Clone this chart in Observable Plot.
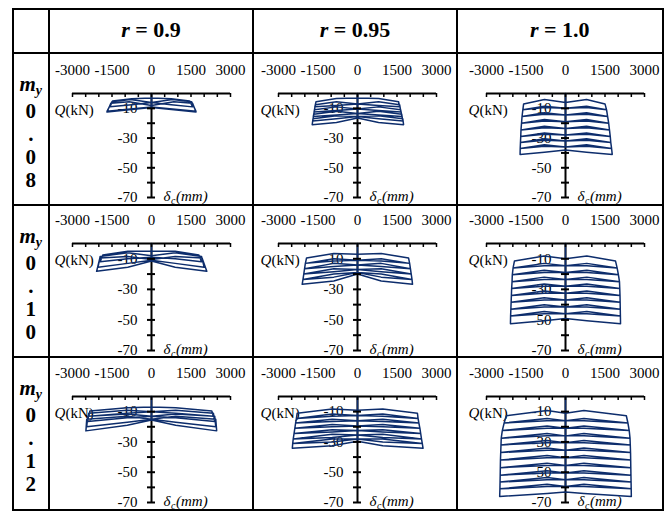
<!DOCTYPE html>
<html>
<head>
<meta charset="utf-8">
<script src="https://cdn.jsdelivr.net/npm/d3@7"></script>
<script src="https://cdn.jsdelivr.net/npm/@observablehq/plot@0.6"></script>
<style>
  body { margin: 0; background: #fff; }
  #root { position: relative; width: 667px; height: 511px; overflow: hidden; font-family: "Liberation Serif", "Times New Roman", serif; color: #000; }
  .hl { position: absolute; background: #000; }
  .cell { position: absolute; }
  .hdr { position: absolute; text-align: center; font-size: 22px; font-weight: bold; line-height: 24px; }
  .rl { position: absolute; text-align: center; font-weight: bold; font-size: 21px; line-height: 22px; }
</style>
</head>
<body>
<div id="root"></div>
<script>
// ---- labels / ticks ----
const rValues = ["0.9", "0.95", "1.0"];
const myValues = ["0.08", "0.10", "0.12"];
const xDomain = [-3000, 3000];
const yDomain = [-70, 0];
const xTickLabels = [-3000, -1500, 0, 1500, 3000];
const xTicks = [-3000, -2500, -2000, -1500, -1000, -500, 0, 500, 1000, 1500, 2000, 2500, 3000];
const yTicks = [-10, -20, -30, -40, -50, -60, -70];
const yTickLabels = [-10, -30, -50, -70];

// ---- hysteresis cycles ----
// each cycle: [center start δ, upper shoulder δ, outer top δ, outer bottom δ, lower shoulder δ, center end δ,
//              +Q outer top, +Q outer bottom, -Q outer top (abs), -Q outer bottom (abs), shoulder Q]
const loops_r090_m008 = [
  [-3, -3.5, -5, -9, -7.5, -6, 1450, 1560, 1480, 1580, 750],
  [-6, -4, -5.5, -12, -10.5, -9, 1520, 1690, 1500, 1690, 800],
  [-8, -5.5, -6.5, -12.5, -11, -9.5, 1560, 1690, 1540, 1690, 850]
];
const loops_r095_m008 = [
  [-3, -3.3, -5.5, -9, -8, -7, 1560, 1600, 1575, 1620, 800],
  [-7, -5.5, -7.5, -12.5, -11.5, -10.5, 1600, 1650, 1600, 1650, 800],
  [-10.5, -9, -11, -15.5, -14.5, -13.5, 1640, 1690, 1630, 1680, 800],
  [-13.5, -12, -14, -18.5, -17, -15.5, 1680, 1720, 1660, 1700, 800],
  [-15.5, -15, -17, -21, -19.5, -16.5, 1720, 1750, 1690, 1720, 800]
];
const loops_r100_m008 = [
  [-6, -4, -7, -11, -9.5, -10, 1500, 1560, 1590, 1620, 800],
  [-10, -8.5, -11, -15.5, -14, -14.5, 1560, 1600, 1620, 1650, 800],
  [-14.5, -13, -15.5, -20, -18.5, -19, 1600, 1640, 1650, 1670, 800],
  [-19, -17.5, -20, -24.5, -23, -23.5, 1640, 1670, 1670, 1690, 800],
  [-23.5, -22, -24.5, -29, -27.5, -28, 1670, 1700, 1690, 1700, 800],
  [-28, -26.5, -29, -33, -31.5, -32, 1700, 1720, 1700, 1710, 800],
  [-32, -30.5, -33, -37, -35.5, -36, 1720, 1750, 1710, 1720, 800],
  [-36, -34.5, -37, -41, -39.5, -38, 1750, 1775, 1720, 1725, 800]
];
const loops_r090_m010 = [
  [-5, -5, -7.5, -12, -10, -9, 1800, 1900, 1850, 1950, 900],
  [-8, -6, -8.5, -15.5, -13, -11, 1900, 2000, 1950, 2030, 900],
  [-10.5, -8.5, -9.5, -18.2, -15.5, -11.5, 1920, 2100, 1960, 2085, 900]
];
const loops_r095_m010 = [
  [-7, -6.5, -9.5, -13, -11.5, -11, 1940, 1980, 1935, 1980, 900],
  [-11, -10, -13, -16.5, -15, -14, 1980, 2010, 1980, 2010, 900],
  [-14, -13, -16.5, -20, -18.5, -17, 2010, 2040, 2010, 2040, 900],
  [-17, -16.5, -20, -23.5, -22, -19, 2040, 2070, 2040, 2070, 900],
  [-19, -20, -23.5, -26.7, -24.5, -20, 2070, 2090, 2070, 2100, 900]
];
const loops_r100_m010 = [
  [-10, -8.2, -11.5, -16, -14.5, -14.5, 1900, 1960, 1940, 1990, 810],
  [-14.5, -13, -16, -20.5, -19, -19, 1960, 2010, 1990, 2020, 810],
  [-19, -17.5, -20.5, -25, -23.5, -23.5, 2010, 2050, 2020, 2030, 810],
  [-23.5, -22, -25, -29.5, -28, -28, 2050, 2060, 2030, 2045, 810],
  [-28, -26.5, -29.5, -34, -32.5, -32.5, 2060, 2070, 2045, 2055, 810],
  [-32.5, -31, -34, -38.5, -37, -37, 2070, 2075, 2055, 2065, 810],
  [-37, -35.5, -38.5, -43, -41.5, -41.5, 2075, 2080, 2065, 2075, 810],
  [-41.5, -40, -43, -47.5, -46, -46, 2080, 2085, 2075, 2085, 810],
  [-46, -44.5, -47.5, -52.5, -50.5, -49, 2085, 2090, 2085, 2090, 810]
];
const loops_r090_m012 = [
  [-7, -7.5, -9.5, -13, -11, -10, 2290, 2350, 2340, 2380, 920],
  [-10, -9, -11, -16.5, -14, -13, 2350, 2400, 2380, 2420, 920],
  [-13, -11.5, -13, -20, -17, -15, 2400, 2440, 2420, 2460, 920],
  [-15, -13, -15, -22.7, -19, -15.5, 2440, 2475, 2460, 2490, 920]
];
const loops_r095_m012 = [
  [-9, -8.2, -11, -14.5, -13, -12.5, 2275, 2300, 2290, 2320, 960],
  [-12.5, -11.5, -14.5, -17.5, -16.5, -16, 2300, 2330, 2320, 2350, 960],
  [-16, -15, -17.5, -21, -20, -19.5, 2330, 2370, 2350, 2380, 960],
  [-19.5, -18.5, -21, -24.5, -23.5, -22.5, 2370, 2400, 2380, 2410, 960],
  [-22.5, -22, -24.5, -28, -27, -25.5, 2400, 2430, 2410, 2440, 960],
  [-25.5, -25, -28, -31, -30, -28, 2430, 2460, 2440, 2460, 960],
  [-28, -28, -31, -34.2, -32.5, -29.5, 2460, 2490, 2460, 2475, 960]
];
const loops_r100_m012 = [
  [-11, -9.3, -12.7, -17.5, -16, -16, 2310, 2370, 2250, 2330, 700],
  [-16, -14.5, -17.5, -22.5, -21, -21, 2370, 2420, 2330, 2400, 700],
  [-21, -19.5, -22.5, -27.5, -26, -26, 2420, 2450, 2400, 2440, 700],
  [-26, -24.5, -27.5, -32, -30.5, -30.5, 2450, 2460, 2440, 2450, 700],
  [-30.5, -29, -32, -37, -35.5, -35.5, 2460, 2470, 2450, 2460, 700],
  [-35.5, -34, -37, -42, -40.5, -40.5, 2470, 2475, 2460, 2470, 700],
  [-40.5, -39, -42, -47, -45.5, -45.5, 2475, 2480, 2470, 2475, 700],
  [-45.5, -44, -47, -52, -50.5, -50.5, 2480, 2485, 2475, 2480, 700],
  [-50.5, -49, -52, -56.5, -55, -55, 2485, 2490, 2480, 2485, 700],
  [-55, -53.5, -56.5, -61, -59.5, -59.5, 2490, 2495, 2485, 2490, 700],
  [-59.5, -58, -61, -66, -64, -63, 2495, 2500, 2490, 2500, 700]
];

const panels = [
  [loops_r090_m008, loops_r095_m008, loops_r100_m008],
  [loops_r090_m010, loops_r095_m010, loops_r100_m010],
  [loops_r090_m012, loops_r095_m012, loops_r100_m012]
];

// ---- layout ----
const colX = [12.5, 49, 253, 457, 662.5];
const rowY = [8.5, 52.5, 205, 357, 509.5];
const zeroX = [151, 357, 565];
const halfSpan = 79;
const rowMargins = [[40, 9], [38, 7], [39, 8]];
const navy = "#0d2d6c";

const root = document.getElementById("root");

function toPoints(loops) {
  const pts = [{q: 0, d: 0}];
  for (const c of loops) {
    const [cA, sT, oT, oB, sB, cB, qRt, qRb, qLt, qLb, qs] = c;
    const seq = [[0, cA], [qs, sT], [qRt, oT], [qRb, oB], [qs, sB], [0, cB],
                 [-qs, sB], [-qLb, oB], [-qLt, oT], [-qs, sT], [0, cA]];
    for (const [q, d] of seq) pts.push({q, d});
  }
  return pts;
}

for (let r = 0; r < 3; r++) {
  for (let c = 0; c < 3; c++) {
    const left = colX[c + 1], right = colX[c + 2];
    const top = rowY[r + 1], bottom = rowY[r + 2];
    const w = Math.round(right - left), h = Math.round(bottom - top);
    const z = zeroX[c] - left;
    const [mT, mB] = rowMargins[r];
    const chart = Plot.plot({
      width: w, height: h,
      marginLeft: z - halfSpan, marginRight: w - z - halfSpan,
      marginTop: mT, marginBottom: mB,
      x: {domain: xDomain, axis: null},
      y: {domain: yDomain, axis: null},
      style: {background: "transparent", fontFamily: "'Liberation Serif', serif", fontSize: "15px", color: "#000", overflow: "visible"},
      marks: [
        Plot.text(yTickLabels, {x: 0, y: d => d, text: d => String(d), dx: -14, textAnchor: "end", fontSize: 15}),
        Plot.text(xTickLabels, {x: d => d, y: yDomain[1], text: d => String(d), dy: -19, lineAnchor: "bottom", fontSize: 15}),
        Plot.text(["Q"], {frameAnchor: "top-left", dx: -18, dy: 11, textAnchor: "start", fontStyle: "italic", fontSize: 15}),
        Plot.text(["(kN)"], {frameAnchor: "top-left", dx: -7, dy: 11, textAnchor: "start", fontSize: 15}),
        Plot.text(["δ"], {x: 0, y: yDomain[0], dx: 12, dy: -1, textAnchor: "start", fontStyle: "italic", fontSize: 15}),
        Plot.text(["c"], {x: 0, y: yDomain[0], dx: 19.5, dy: 3, textAnchor: "start", fontStyle: "italic", fontSize: 10}),
        Plot.text(["(mm)"], {x: 0, y: yDomain[0], dx: 24.5, dy: -1, textAnchor: "start", fontStyle: "italic", fontSize: 15}),
        Plot.ruleY([yDomain[1]], {stroke: "#000", strokeWidth: 2}),
        Plot.ruleX([0], {stroke: "#000", strokeWidth: 2}),
        Plot.line(toPoints(panels[r][c]), {x: "q", y: "d", stroke: navy, strokeWidth: 1.5, strokeLinejoin: "round"}),
        Plot.ruleX(xTicks, {x: d => d, y1: yDomain[1], y2: yDomain[1], insetBottom: -4, stroke: "#000", strokeWidth: 1.5}),
        Plot.ruleY(yTicks, {y: d => d, x1: 0, x2: 0, insetLeft: -4, insetRight: -4, stroke: "#000", strokeWidth: 2})
      ]
    });
    const div = document.createElement("div");
    div.className = "cell";
    div.style.left = left + "px";
    div.style.top = top + "px";
    div.appendChild(chart);
    root.appendChild(div);
  }
}

// header row
for (let c = 0; c < 3; c++) {
  const d = document.createElement("div");
  d.className = "hdr";
  const left = colX[c + 1], right = colX[c + 2];
  d.style.left = left + "px";
  d.style.width = (right - left) + "px";
  d.style.top = "18px";
  d.innerHTML = `<i>r</i> = ${rValues[c]}`;
  root.appendChild(d);
}

// row labels (vertical)
const rowLabelOffsets = [31, 58, 81, 104, 127];
for (let r = 0; r < 3; r++) {
  const top = rowY[r + 1];
  const chars = ["m", ...myValues[r].split("")];
  chars.forEach((ch, i) => {
    const d = document.createElement("div");
    d.className = "rl";
    d.style.left = colX[0] + "px";
    d.style.width = (colX[1] - colX[0]) + "px";
    d.style.top = (top + rowLabelOffsets[i] - 11) + "px";
    if (i === 0) {
      d.innerHTML = `<i>m</i><i style="font-size:14px;position:relative;top:4px">y</i>`;
    } else {
      d.textContent = ch;
    }
    root.appendChild(d);
  });
}

// table grid lines
for (const x of colX) {
  const d = document.createElement("div");
  d.className = "hl";
  d.style.left = (x - 1) + "px"; d.style.width = "2px";
  d.style.top = (rowY[0] - 1) + "px"; d.style.height = (rowY[4] - rowY[0] + 2) + "px";
  root.appendChild(d);
}
for (const y of rowY) {
  const d = document.createElement("div");
  d.className = "hl";
  d.style.top = (y - 1) + "px"; d.style.height = "2px";
  d.style.left = (colX[0] - 1) + "px"; d.style.width = (colX[4] - colX[0] + 2) + "px";
  root.appendChild(d);
}
</script>
</body>
</html>
